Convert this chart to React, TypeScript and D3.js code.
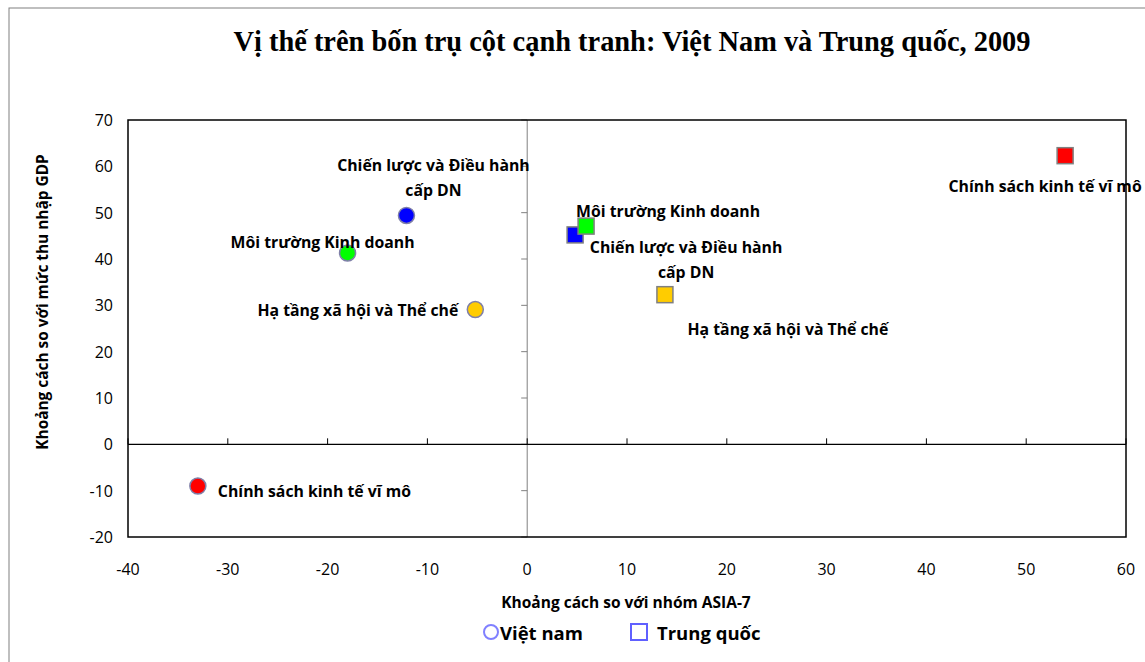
import React from "react"
import * as d3 from "d3"

const WIDTH = 1145
const HEIGHT = 662
const PLOT = { left: 128, right: 1126, top: 120, bottom: 537 }
const LABEL_FONT = "'Open Sans', 'Noto Sans', sans-serif"

const pillars = [
    "Chiến lược và Điều hành cấp DN",
    "Môi trường Kinh doanh",
    "Hạ tầng xã hội và Thể chế",
    "Chính sách kinh tế vĩ mô",
]
const pillarColors = ["#0000FF", "#00FF00", "#FFCC00", "#FF0000"]

// x: khoảng cách so với ASIA-7, y: khoảng cách so với mức thu nhập GDP
const vietnamX = [-12.1, -18.0, -5.2, -33.0]
const vietnamY = [49.4, 41.3, 29.1, -9.0]
const chinaX = [4.8, 5.9, 13.8, 53.9]
const chinaY = [45.2, 47.1, 32.3, 62.3]

const xTicks = [-40, -30, -20, -10, 0, 10, 20, 30, 40, 50, 60]
const yTicks = [-20, -10, 0, 10, 20, 30, 40, 50, 60, 70]

// label placement (pixel offsets from marker), line breaks
const vnLabelLayout = [
    { dx: 27, dy: -50, anchor: "middle", lines: ["Chiến lược và Điều hành", "cấp DN"] },
    { dx: -25, dy: -11, anchor: "middle", lines: ["Môi trường Kinh doanh"] },
    { dx: -17, dy: 0, anchor: "end", lines: ["Hạ tầng xã hội và Thể chế"] },
    { dx: 20, dy: 5, anchor: "start", lines: ["Chính sách kinh tế vĩ mô"] },
]
const cnLabelLayout = [
    { dx: 111, dy: 12, anchor: "middle", lines: ["Chiến lược và Điều hành", "cấp DN"] },
    { dx: 82, dy: -15, anchor: "middle", lines: ["Môi trường Kinh doanh"] },
    { dx: 123, dy: 34, anchor: "middle", lines: ["Hạ tầng xã hội và Thể chế"] },
    { dx: -20, dy: 30, anchor: "middle", lines: ["Chính sách kinh tế vĩ mô"] },
]

const App = () => {
    const x = d3.scaleLinear().domain([-40, 60]).range([PLOT.left, PLOT.right])
    const y = d3.scaleLinear().domain([-20, 70]).range([PLOT.bottom, PLOT.top])

    const label = (px: number, py: number, l: any, key: string) => (
        <text
            key={key}
            x={px + l.dx}
            y={py + l.dy}
            textAnchor={l.anchor}
            dominantBaseline="central"
            fontFamily={LABEL_FONT}
            fontWeight="bold"
            fontSize={15.8}
            fill="#000"
        >
            {l.lines.map((t: string, i: number) => (
                <tspan key={i} x={px + l.dx} dy={i === 0 ? 0 : 25}>
                    {t}
                </tspan>
            ))}
        </text>
    )

    return (
        <svg
            width={WIDTH}
            height={HEIGHT}
            style={{ position: "absolute", left: 0, top: 0, background: "#fff" }}
        >
            <rect x={9} y={8} width={WIDTH} height={HEIGHT} fill="#fff" stroke="#808080" strokeWidth={1} />

            <text
                x={632}
                y={41}
                textAnchor="middle"
                dominantBaseline="central"
                fontFamily="'Liberation Serif', 'Times New Roman', serif"
                fontWeight="bold"
                fontSize={28.4}
            >
                Vị thế trên bốn trụ cột cạnh tranh: Việt Nam và Trung quốc, 2009
            </text>

            {/* vertical axis at x = 0 */}
            <line x1={x(0)} x2={x(0)} y1={PLOT.top} y2={PLOT.bottom} stroke="#808080" strokeWidth={1} />
            {yTicks.map((t) => (
                <line key={t} x1={x(0) - 6} x2={x(0)} y1={y(t)} y2={y(t)} stroke="#808080" strokeWidth={1} />
            ))}

            {/* horizontal axis at y = 0 */}
            <line x1={PLOT.left} x2={PLOT.right} y1={y(0)} y2={y(0)} stroke="#000" strokeWidth={1.3} />
            {xTicks.map((t) => (
                <line key={t} x1={x(t)} x2={x(t)} y1={y(0) - 6} y2={y(0)} stroke="#000" strokeWidth={1} />
            ))}

            {/* tick labels */}
            {yTicks.map((t) => (
                <text
                    key={t}
                    x={PLOT.left - 15}
                    y={y(t)}
                    textAnchor="end"
                    dominantBaseline="central"
                    fontFamily={LABEL_FONT}
                    fontSize={16}
                >
                    {t}
                </text>
            ))}
            {xTicks.map((t) => (
                <text
                    key={t}
                    x={x(t)}
                    y={569}
                    textAnchor="middle"
                    dominantBaseline="central"
                    fontFamily={LABEL_FONT}
                    fontSize={16}
                >
                    {t}
                </text>
            ))}

            {/* markers */}
            {vietnamX.map((vx, i) => (
                <circle
                    key={"vn" + i}
                    cx={x(vx)}
                    cy={y(vietnamY[i])}
                    r={8}
                    fill={pillarColors[i]}
                    stroke="#7f7fa8"
                    strokeWidth={1.5}
                />
            ))}
            {chinaX.map((cx, i) => (
                <rect
                    key={"cn" + i}
                    x={x(cx) - 8}
                    y={y(chinaY[i]) - 8}
                    width={16}
                    height={16}
                    fill={pillarColors[i]}
                    stroke="#808080"
                    strokeWidth={1.5}
                />
            ))}

            {/* data labels */}
            {vietnamX.map((vx, i) => label(x(vx), y(vietnamY[i]), vnLabelLayout[i], "vl" + i))}
            {chinaX.map((cx, i) => label(x(cx), y(chinaY[i]), cnLabelLayout[i], "cl" + i))}

            {/* plot border */}
            <rect
                x={PLOT.left}
                y={PLOT.top}
                width={PLOT.right - PLOT.left}
                height={PLOT.bottom - PLOT.top}
                fill="none"
                stroke="#000"
                strokeWidth={1.5}
            />

            {/* axis titles */}
            <text
                x={42}
                y={302}
                transform="rotate(-90 42 302)"
                textAnchor="middle"
                dominantBaseline="central"
                fontFamily={LABEL_FONT}
                fontWeight="bold"
                fontSize={15.4}
            >
                Khoảng cách so với mức thu nhập GDP
            </text>
            <text
                x={626}
                y={602}
                textAnchor="middle"
                dominantBaseline="central"
                fontFamily={LABEL_FONT}
                fontWeight="bold"
                fontSize={15.5}
            >
                Khoảng cách so với nhóm ASIA-7
            </text>

            {/* legend */}
            <circle cx={491} cy={632} r={7} fill="none" stroke="#8080ff" strokeWidth={2} />
            <text x={500} y={632} dominantBaseline="central" fontFamily={LABEL_FONT} fontWeight="bold" fontSize={18.5}>
                Việt nam
            </text>
            <rect x={631} y={624} width={16} height={16} fill="none" stroke="#6060ff" strokeWidth={2} />
            <text x={657} y={632} dominantBaseline="central" fontFamily={LABEL_FONT} fontWeight="bold" fontSize={18.5}>
                Trung quốc
            </text>
        </svg>
    )
}

export default App
